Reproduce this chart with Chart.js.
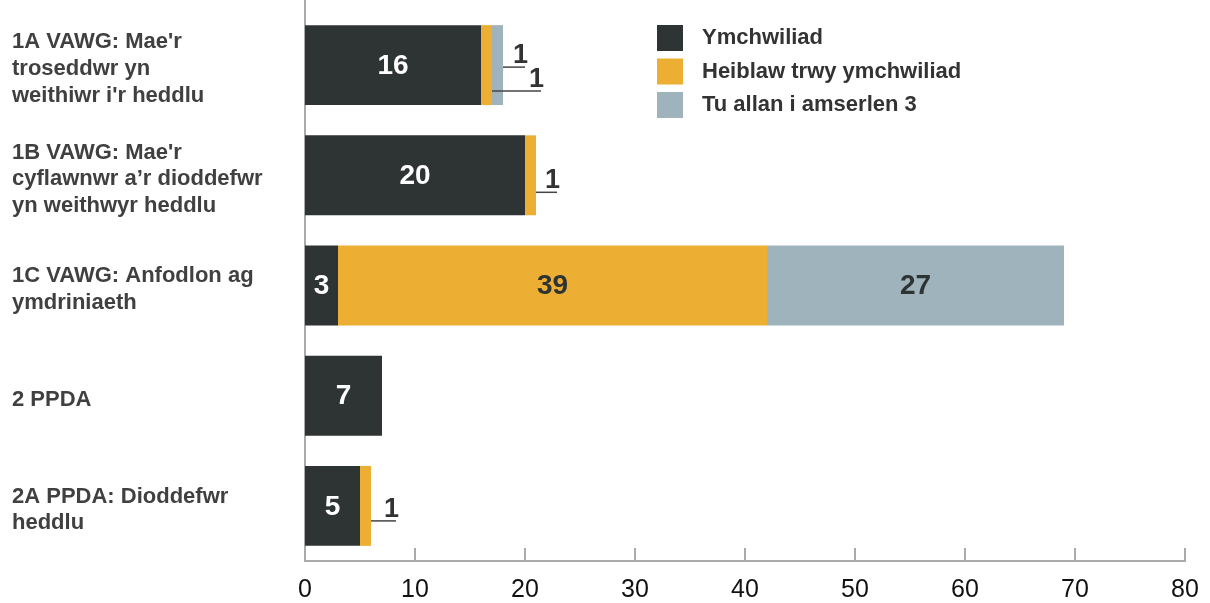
<!DOCTYPE html>
<html>
<head>
<meta charset="utf-8">
<script src="https://cdn.jsdelivr.net/npm/chart.js@4.4.0/dist/chart.umd.min.js"></script>
<style>
  html, body { margin: 0; padding: 0; background: #fff; }
  #wrap { width: 1210px; height: 603px; position: relative; }
</style>
</head>
<body>
<div id="wrap"><canvas id="grafico"></canvas></div>
<script>
// ==================== DATOS ====================
const categorias = [
    ["1A VAWG: Mae'r", "troseddwr yn", "weithiwr i'r heddlu"],
    ["1B VAWG: Mae'r", "cyflawnwr a’r dioddefwr", "yn weithwyr heddlu"],
    ["1C VAWG: Anfodlon ag", "ymdriniaeth"],
    ["2 PPDA"],
    ["2A PPDA: Dioddefwr", "heddlu"]
];
const ymchwiliad = [16, 20, 3, 7, 5];
const heiblaw    = [1, 1, 39, 0, 1];
const tuAllan    = [1, 0, 27, 0, 0];
const ticksX     = [0, 10, 20, 30, 40, 50, 60, 70, 80];

const FUENTE = "'Liberation Sans', Arial, sans-serif";
const OSCURO = '#2e3433';

// etiquetas pequeñas con línea guía (cat, dataset, desplazamiento vertical, extra tras el final de la barra)
const guias = [
    { cat: 0, ds: 2, dy: 2,  extra: 22 },
    { cat: 0, ds: 1, dy: 26, extra: 38 },
    { cat: 1, ds: 1, dy: 17, extra: 21 },
    { cat: 4, ds: 1, dy: 15, extra: 25 }
];

// ==================== PLUGIN ETIQUETAS / LEYENDA ====================
const extras = {
    id: 'extras',
    afterDraw(chart) {
        const ctx = chart.ctx;
        const area = chart.chartArea;
        const x = chart.scales.x;
        ctx.save();

        // eje vertical hasta arriba
        ctx.strokeStyle = '#aaaaaa';
        ctx.lineWidth = 2;
        ctx.beginPath();
        ctx.moveTo(area.left, 0);
        ctx.lineTo(area.left, area.top);
        ctx.stroke();

        // marcas del eje x hacia dentro
        ticksX.forEach(v => {
            const px = Math.round(x.getPixelForValue(v));
            ctx.beginPath();
            ctx.moveTo(px, area.bottom);
            ctx.lineTo(px, area.bottom - 13);
            ctx.stroke();
        });

        // valores dentro de las barras
        ctx.font = 'bold 28px ' + FUENTE;
        ctx.textAlign = 'center';
        ctx.textBaseline = 'middle';
        chart.data.datasets.forEach((ds, i) => {
            const meta = chart.getDatasetMeta(i);
            meta.data.forEach((bar, j) => {
                const v = ds.data[j];
                if (!v || v < 3) return;
                ctx.fillStyle = i === 0 ? '#ffffff' : OSCURO;
                ctx.fillText(v, (bar.base + bar.x) / 2, bar.y + 1);
            });
        });

        // valores pequeños con línea guía
        ctx.font = 'bold 27px ' + FUENTE;
        ctx.textAlign = 'right';
        ctx.textBaseline = 'alphabetic';
        ctx.strokeStyle = '#444444';
        ctx.lineWidth = 1.5;
        ctx.fillStyle = '#333333';
        guias.forEach(g => {
            const bar = chart.getDatasetMeta(g.ds).data[g.cat];
            const total = ymchwiliad[g.cat] + heiblaw[g.cat] + tuAllan[g.cat];
            const fin = x.getPixelForValue(total) + g.extra;
            const y = bar.y + g.dy;
            ctx.beginPath();
            ctx.moveTo(bar.x, y);
            ctx.lineTo(fin, y);
            ctx.stroke();
            ctx.fillText(chart.data.datasets[g.ds].data[g.cat], fin + 3, y - 4);
        });

        // leyenda
        ctx.font = 'bold 22px ' + FUENTE;
        ctx.textAlign = 'left';
        ctx.textBaseline = 'middle';
        chart.data.datasets.forEach((ds, i) => {
            const lx = area.left + 352;
            const ly = area.top + 15 + i * 33.5;
            ctx.fillStyle = ds.backgroundColor;
            ctx.fillRect(lx, ly, 26, 26);
            ctx.fillStyle = '#333333';
            ctx.fillText(ds.label, lx + 45, ly + 13);
        });

        ctx.restore();
    }
};

// ==================== GRÁFICO ====================
const ctx = document.getElementById('grafico').getContext('2d');
new Chart(ctx, {
    type: 'bar',
    data: {
        labels: categorias,
        datasets: [
            { label: 'Ymchwiliad',             data: ymchwiliad, backgroundColor: OSCURO },
            { label: 'Heiblaw trwy ymchwiliad', data: heiblaw,    backgroundColor: '#ecae33' },
            { label: 'Tu allan i amserlen 3',  data: tuAllan,    backgroundColor: '#9eb3bc' }
        ]
    },
    options: {
        indexAxis: 'y',
        responsive: true,
        maintainAspectRatio: false,
        animation: false,
        devicePixelRatio: 1,
        barPercentage: 0.725,
        categoryPercentage: 1,
        layout: { padding: { top: 10, left: 12, right: 25, bottom: 0 } },
        plugins: {
            legend: { display: false },
            tooltip: { enabled: false }
        },
        scales: {
            x: {
                stacked: true,
                min: 0,
                max: 80,
                afterBuildTicks: s => { s.ticks = ticksX.map(v => ({ value: v })); },
                afterFit: s => { s.height = 42; s.paddingLeft = 0; s.paddingRight = 0; },
                grid: { display: false },
                border: { display: true, color: '#aaaaaa', width: 2 },
                ticks: { color: '#111111', padding: 6, font: { family: FUENTE, size: 25 } }
            },
            y: {
                stacked: true,
                afterFit: s => { s.width = 293; s.paddingTop = 0; s.paddingBottom = 0; },
                grid: { display: false },
                border: { display: true, color: '#aaaaaa', width: 2 },
                ticks: {
                    crossAlign: 'far',
                    labelOffset: 4,
                    color: '#404040',
                    font: { family: FUENTE, size: 22, weight: 'bold', lineHeight: 1.22 }
                }
            }
        }
    },
    plugins: [extras]
});
</script>
</body>
</html>
